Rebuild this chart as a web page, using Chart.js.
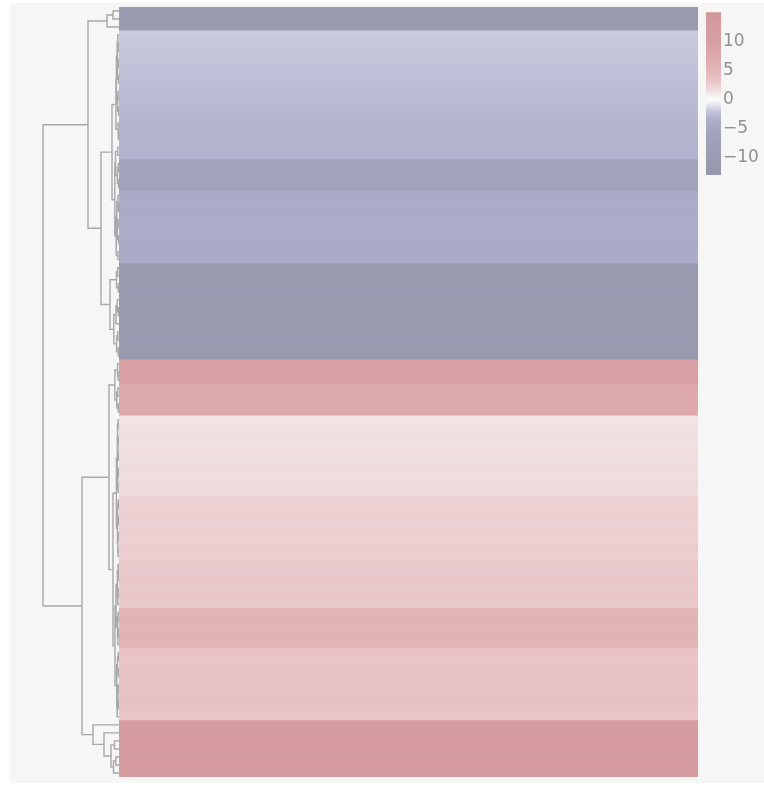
<!DOCTYPE html>
<html>
<head>
<meta charset="utf-8">
<script src="https://cdn.jsdelivr.net/npm/chart.js@4.4.1/dist/chart.umd.min.js"></script>
<style>
  html, body { margin: 0; padding: 0; background: #ffffff; width: 764px; height: 786px; overflow: hidden; }
  #panel { position: absolute; left: 10px; top: 3px; width: 754px; height: 780px; background: #f6f6f6; }
  canvas { position: absolute; }
  #dendro { left: 30px; top: 0px; width: 92px; height: 786px; }
  #heat { left: 119px; top: 7px; width: 579px; height: 770px; }
  #cbar { left: 700px; top: 0px; width: 64px; height: 786px; }
</style>
</head>
<body>
<div id="panel"></div>
<canvas id="dendro" width="92" height="786"></canvas>
<canvas id="heat" width="579" height="770"></canvas>
<canvas id="cbar" width="64" height="786"></canvas>
<script>
// Row values of the single-column heatmap, in dendrogram leaf order (top to bottom)
const rowValues = [
  -10.4, -10.6, -10.5,
  -1.9, -2.0, -2.1, -2.2, -2.3, -2.4, -2.5, -2.6, -2.7, -2.8, -2.9, -3.0, -3.1, -3.2, -3.2, -3.3,
  -5.4, -5.6, -5.3, -5.5,
  -4.0, -3.9, -4.1, -3.9, -4.0, -3.8, -4.1, -4.2, -3.9,
  -11.0, -11.2, -10.9, -11.3, -11.1, -10.8, -11.2, -11.0, -11.3, -10.9, -11.1, -11.2,
  9.6, 9.9, 9.4,
  7.6, 7.3, 7.8, 7.4,
  1.3, 1.4, 1.5, 1.4, 1.6, 1.5, 1.7, 1.6, 1.8, 1.7,
  2.3, 2.4, 2.5, 2.3, 2.5, 2.4, 2.6, 2.5,
  2.9, 2.8, 3.0, 2.9, 3.1, 2.9,
  5.3, 5.5, 5.1, 5.4, 5.2,
  3.3, 3.2, 3.4, 3.3, 3.5, 3.3, 3.6, 3.4, 3.2,
  13.0, 12.8, 13.2, 12.9, 13.1, 13.3, 12.7
];

// Merge height between each pair of neighbouring leaves (ordered dendrogram)
const mergeHeights = [
  6, 12, 31, 1.2, 0.6, 2.0, 0.8, 1.5, 0.5, 2.6,
  0.9, 1.4, 0.4, 3.1, 1.0, 0.7, 7, 1.3, 3.5, 0.8,
  1.6, 0.5, 4.2, 1.1, 0.6, 2.2, 0.9, 1.7, 0.4, 2.8,
  1.0, 18, 1.4, 2.5, 0.7, 9, 1.8, 0.6, 3.0, 5.2,
  1.2, 2.4, 0.8, 76, 1.5, 0.9, 4.1, 1.2, 2.2, 0.7,
  10, 0.8, 1.6, 0.5, 1.1, 0.6, 1.9, 0.4, 1.3, 0.9,
  2.6, 0.7, 1.4, 0.5, 1.8, 0.6, 1.2, 0.9, 6, 1.0,
  0.5, 1.7, 0.8, 1.3, 3.0, 0.9, 1.6, 0.6, 1.1, 4.0,
  0.7, 1.5, 0.5, 2.3, 0.8, 1.2, 0.6, 1.9, 37, 26,
  15, 4.5, 8, 3.2, 5.5
];

// Diverging colour scale (value -> colour)
const scaleValues = [-13, -10, -5.5, -4, -3, -2, -1, 0, 1.5, 2.4, 3.0, 5.2, 7.5, 9.5, 13, 15];
const scaleColors = [
  '#9798ab', '#9b9cb2', '#a2a3bd', '#aaabc7', '#b4b5cf', '#c7c8dc', '#e4e4ee', '#fcfcfd',
  '#f0dfe0', '#ecd0d2', '#e9c7c9', '#e2b4b6', '#dea9ac', '#d9a0a3', '#d59c9f', '#d29699'
];
const colorbarRange = [-13, 15];
const colorbarTicks = [10, 5, 0, -5, -10];

function hexToRgb(h) {
  return [parseInt(h.slice(1, 3), 16), parseInt(h.slice(3, 5), 16), parseInt(h.slice(5, 7), 16)];
}
function colorFor(v) {
  if (v <= scaleValues[0]) return scaleColors[0];
  for (let i = 1; i < scaleValues.length; i++) {
    if (v <= scaleValues[i]) {
      const t = (v - scaleValues[i - 1]) / (scaleValues[i] - scaleValues[i - 1]);
      const a = hexToRgb(scaleColors[i - 1]), b = hexToRgb(scaleColors[i]);
      const c = a.map((x, k) => Math.round(x + (b[k] - x) * t));
      return `rgb(${c[0]},${c[1]},${c[2]})`;
    }
  }
  return scaleColors[scaleColors.length - 1];
}

const rowNames = rowValues.map((_, i) => 'row ' + (i + 1));
const nRows = rowValues.length;

// Build the dendrogram links: split each leaf range at its largest merge height
const links = [];
function buildNode(a, b) {
  if (a === b) return { y: a, h: 0 };
  let k = a;
  for (let i = a; i < b; i++) if (mergeHeights[i] > mergeHeights[k]) k = i;
  const left = buildNode(a, k);
  const right = buildNode(k + 1, b);
  const h = mergeHeights[k];
  links.push(
    { x: left.h, y: left.y }, { x: h, y: left.y },
    { x: h, y: right.y }, { x: right.h, y: right.y },
    { x: null, y: null }
  );
  return { y: (left.y + right.y) / 2, h };
}
buildNode(0, nRows - 1);
const rootHeight = Math.max(...mergeHeights);

Chart.defaults.font.family = "'DejaVu Sans', sans-serif";

// Dendrogram
new Chart(document.getElementById('dendro'), {
  type: 'scatter',
  data: {
    datasets: [{
      data: links,
      showLine: true,
      spanGaps: false,
      pointRadius: 0,
      borderColor: '#a8a8a8',
      borderWidth: 1.4,
      clip: false
    }]
  },
  options: {
    responsive: false,
    animation: false,
    devicePixelRatio: 1,
    layout: { padding: { left: 13, right: 3, top: 7, bottom: 9 } },
    scales: {
      x: { type: 'linear', display: false, min: 0, max: rootHeight, reverse: true },
      y: { type: 'linear', display: false, min: -0.5, max: nRows - 0.5, reverse: true }
    },
    plugins: { legend: { display: false }, tooltip: { enabled: false } }
  }
});

// Heatmap: one floating bar per row spanning the single column
new Chart(document.getElementById('heat'), {
  type: 'bar',
  data: {
    labels: rowNames,
    datasets: [{
      data: rowValues.map(() => [0, 1]),
      backgroundColor: rowValues.map(colorFor),
      borderWidth: 0,
      barPercentage: 1,
      categoryPercentage: 1,
      inflateAmount: 0.5
    }]
  },
  options: {
    indexAxis: 'y',
    responsive: false,
    animation: false,
    devicePixelRatio: 1,
    layout: { padding: 0 },
    scales: {
      x: { type: 'linear', display: false, min: 0, max: 1 },
      y: { display: false }
    },
    plugins: { legend: { display: false }, tooltip: { enabled: false } }
  }
});

// Colour bar with its value axis on the right
new Chart(document.getElementById('cbar'), {
  type: 'bar',
  data: {
    labels: ['scale'],
    datasets: [{
      data: [colorbarRange],
      borderWidth: 0,
      barPercentage: 1,
      categoryPercentage: 1,
      backgroundColor: (ctx) => {
        const chart = ctx.chart;
        const ys = chart.scales.y;
        if (!chart.chartArea || !ys) return '#cccccc';
        const lo = colorbarRange[0], hi = colorbarRange[1];
        const g = chart.ctx.createLinearGradient(0, ys.getPixelForValue(lo), 0, ys.getPixelForValue(hi));
        scaleValues.forEach((v, i) => {
          if (v >= lo && v <= hi) g.addColorStop((v - lo) / (hi - lo), scaleColors[i]);
        });
        return g;
      }
    }]
  },
  options: {
    responsive: false,
    animation: false,
    devicePixelRatio: 1,
    layout: { padding: { left: 6, right: 0, top: 7, bottom: 611 } },
    scales: {
      x: { display: false },
      y: {
        position: 'right',
        min: colorbarRange[0],
        max: colorbarRange[1],
        afterBuildTicks: (s) => { s.ticks = colorbarTicks.map(v => ({ value: v })); },
        afterFit: (s) => { s.width = 43; },
        grid: { display: false, drawTicks: false },
        border: { display: false },
        ticks: {
          padding: 2,
          color: '#919191',
          font: { size: 17 },
          callback: (v) => String(v).replace('-', '\u2212')
        }
      }
    },
    plugins: { legend: { display: false }, tooltip: { enabled: false } }
  }
});
</script>
</body>
</html>
